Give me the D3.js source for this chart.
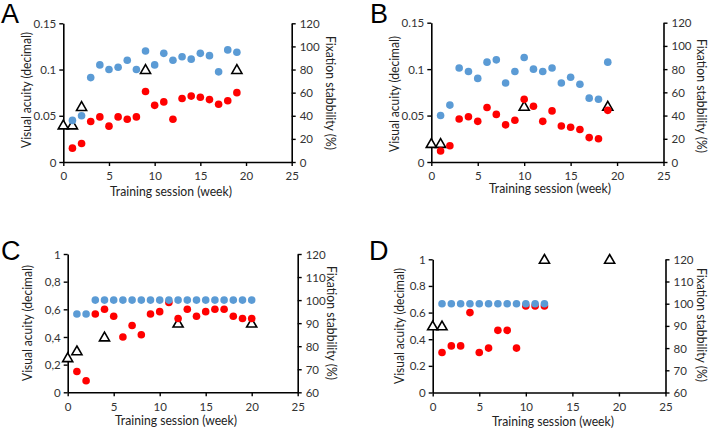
<!DOCTYPE html>
<html><head><meta charset="utf-8">
<script src="https://cdn.jsdelivr.net/npm/d3@7"></script>
<style>
html,body{margin:0;padding:0;background:#fff;}
svg{display:block;}
text{font-family:Lato,"Open Sans",sans-serif;}
</style></head>
<body>
<svg id="chart" width="709" height="429"></svg>
<script>
// ---------- DATA ----------
const weeksA = [1,2,3,4,5,6,7,8,9,10,11,12,13,14,15,16,17,18,19];
const stabilityBlueA = [36,40,73,84,80,82,88,80,96,84,94,88,91,89,94,92,78,97,95];
const stabilityRedA = [12,16,35,39,31,39,37,39,61,49,52,37,55,57,56,54,50,53,60];
const acuityWeeksA = [0,1,2,9,19];
const acuityA = [0.04,0.04,0.06,0.1,0.1];

const weeksB = [1,2,3,4,5,6,7,8,9,10,11,12,13,14,15,16,17,18,19];
const stabilityBlueB = [40,49,81,78,72,86,88,68,78,90,80,78,81,68,73,67,55,54,86];
const stabilityRedB = [9.5,14,37,39,35,47,41,32,36,54,48,35,44,31,30,28,21,20,44.5];
const acuityWeeksB = [0,1,10,19];
const acuityB = [0.02,0.02,0.06,0.06];

const weeksC = [1,2,3,4,5,6,7,8,9,10,11,12,13,14,15,16,17,18,19,20];
const stabilityBlueC = [94,94,100,100,100,100,100,100,100,100,100,100,100,100,100,100,100,100,100,100];
const stabilityRedC = [69,65,94,96,93,84,89,85,94,95,99,92,96,93,95,96,96,93,92,92];
const acuityWeeksC = [0,1,4,12,20];
const acuityC = [0.25,0.3,0.4,0.5,0.5];

const weeksD = [1,2,3,4,5,6,7,8,9,10,11,12];
const stabilityBlueD = [100,100,100,100,100,100,100,100,100,100,100,100];
const stabilityRedD = [78,81,81,96,78,80,88,88,80,99,99,99];
const acuityWeeksD = [0,1,12,19];
const acuityD = [0.5,0.5,1,1];

const xTicks = [0,5,10,15,20,25];
const leftTicksAB = [0,0.05,0.1,0.15];
const leftLabelsAB = ["0","0.05","0.1","0.15"];
const rightTicksAB = [0,20,40,60,80,100,120];
const leftTicksCD = [0,0.2,0.4,0.6,0.8,1];
const leftLabelsC = ["0","0,2","0,4","0,6","0,8","1"];
const leftLabelsD = ["0","0.2","0.4","0.6","0.8","1"];
const rightTicksCD = [60,70,80,90,100,110,120];

const panelLetters = ["A","B","C","D"];
const xTitle = "Training session (week)";
const yLeftTitle = "Visual acuity (decimal)";
const yRightTitle = "Fixation stabbility (%)";

// ---------- LAYOUT ----------
const panels = [
  {letter:panelLetters[0], box:{l:63.3,r:291.7,t:23.3,b:162}, lDom:[0,0.15], lTicks:leftTicksAB, lLabels:leftLabelsAB, rDom:[0,120], rTicks:rightTicksAB,
   weeks:weeksA, blue:stabilityBlueA, red:stabilityRedA, tw:acuityWeeksA, tv:acuityA,
   letterPos:[1,23], lTitle:[27,90], rTitle:[330,93], xTitlePos:[171,196], xLabY:180},
  {letter:panelLetters[1], box:{l:431.3,r:663.5,t:22.7,b:162}, lDom:[0,0.15], lTicks:leftTicksAB, lLabels:leftLabelsAB, rDom:[0,120], rTicks:rightTicksAB,
   weeks:weeksB, blue:stabilityBlueB, red:stabilityRedB, tw:acuityWeeksB, tv:acuityB,
   letterPos:[370,23], lTitle:[395,94], rTitle:[701,96], xTitlePos:[550,193], xLabY:180},
  {letter:panelLetters[2], box:{l:67.7,r:297.7,t:254,b:392.3}, lDom:[0,1], lTicks:leftTicksCD, lLabels:leftLabelsC, rDom:[60,120], rTicks:rightTicksCD,
   weeks:weeksC, blue:stabilityBlueC, red:stabilityRedC, tw:acuityWeeksC, tv:acuityC,
   letterPos:[1,260], lTitle:[28,323], rTitle:[331,323], xTitlePos:[176,425], xLabY:411},
  {letter:panelLetters[3], box:{l:432.7,r:665.5,t:259.3,b:392.5}, lDom:[0,1], lTicks:leftTicksCD, lLabels:leftLabelsD, rDom:[60,120], rTicks:rightTicksCD,
   weeks:weeksD, blue:stabilityBlueD, red:stabilityRedD, tw:acuityWeeksD, tv:acuityD,
   letterPos:[369,260], lTitle:[400,326], rTitle:[701,325], xTitlePos:[553,426], xLabY:411}
];

const svg = d3.select("#chart");
const BLUE = "#5b9bd5", RED = "#ff0000";
const tri = d3.symbol().type(d3.symbolTriangle).size(44);

panels.forEach(p => {
  const g = svg.append("g");
  const x = d3.scaleLinear().domain([0,25]).range([p.box.l,p.box.r]);
  const yl = d3.scaleLinear().domain(p.lDom).range([p.box.b,p.box.t]);
  const yr = d3.scaleLinear().domain(p.rDom).range([p.box.b,p.box.t]);

  const xa = g.append("g").attr("transform",`translate(0,${p.box.b})`)
    .call(d3.axisBottom(x).tickValues(xTicks).tickSize(4).tickSizeOuter(0).tickFormat(d3.format("d")));
  const la = g.append("g").attr("transform",`translate(${p.box.l},0)`)
    .call(d3.axisLeft(yl).tickValues(p.lTicks).tickSize(4).tickSizeOuter(0).tickFormat((d,i)=>p.lLabels[i]));
  const ra = g.append("g").attr("transform",`translate(${p.box.r},0)`)
    .call(d3.axisRight(yr).tickValues(p.rTicks).tickSize(4).tickSizeOuter(0).tickFormat(d3.format("d")));
  [xa,la,ra].forEach(a=>{
    a.select(".domain").attr("stroke","#000").attr("stroke-width",1.6);
    a.selectAll(".tick line").attr("stroke","#000").attr("stroke-width",1.4);
    a.selectAll(".tick text").attr("fill","#333").style("font-size","11.5px").style("font-family","Lato");
  });
  xa.selectAll(".tick text").attr("dy",null).attr("y", p.xLabY - p.box.b);
  la.selectAll(".tick text").attr("x",-7).attr("dy","0.35em");
  ra.selectAll(".tick text").attr("x",8).attr("dy","0.35em");

  g.append("g").selectAll("path").data(p.tw.map((w,i)=>[w,p.tv[i]])).join("path")
    .attr("d",tri).attr("transform",d=>`translate(${x(d[0])},${yl(d[1])+1})`)
    .attr("fill","#fff").attr("stroke","#000").attr("stroke-width",1.6);
  g.append("g").selectAll("circle").data(p.weeks.map((w,i)=>[w,p.red[i]])).join("circle")
    .attr("cx",d=>x(d[0])).attr("cy",d=>yr(d[1])).attr("r",3.8).attr("fill",RED);
  g.append("g").selectAll("circle").data(p.weeks.map((w,i)=>[w,p.blue[i]])).join("circle")
    .attr("cx",d=>x(d[0])).attr("cy",d=>yr(d[1])).attr("r",3.8).attr("fill",BLUE);

  g.append("text").attr("x",p.xTitlePos[0]).attr("y",p.xTitlePos[1]).attr("text-anchor","middle")
    .attr("fill","#222").style("font-size","12.5px").attr("textLength",122).attr("lengthAdjust","spacingAndGlyphs").text(xTitle);
  g.append("text").attr("transform",`translate(${p.lTitle[0]+4},${p.lTitle[1]}) rotate(-90)`).attr("text-anchor","middle")
    .attr("fill","#222").style("font-size","12.5px").attr("textLength",116).attr("lengthAdjust","spacingAndGlyphs").text(yLeftTitle);
  g.append("text").attr("transform",`translate(${p.rTitle[0]-4},${p.rTitle[1]}) rotate(90)`).attr("text-anchor","middle")
    .attr("fill","#222").style("font-size","12.5px").attr("textLength",114).attr("lengthAdjust","spacingAndGlyphs").text(yRightTitle);
  g.append("text").attr("x",p.letterPos[0]).attr("y",p.letterPos[1])
    .style("font-family","'Liberation Sans',Arial,sans-serif").style("font-size","27px").attr("fill","#000").text(p.letter);
});
</script>
</body></html>
